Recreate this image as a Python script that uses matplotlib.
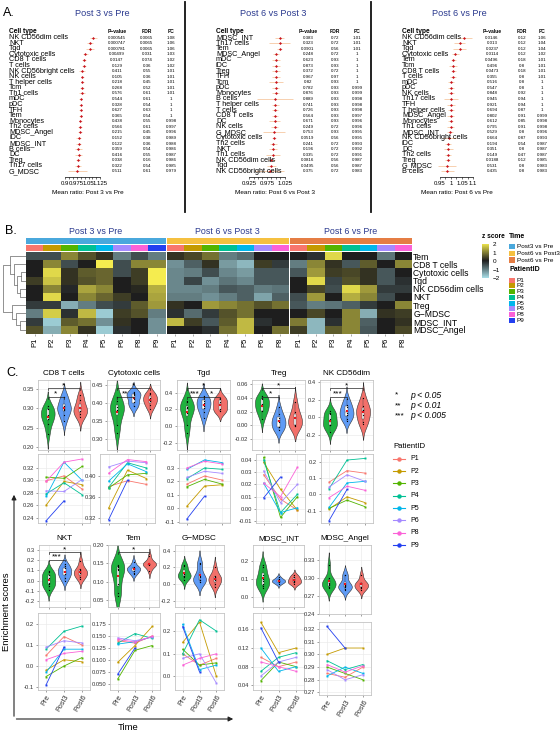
import numpy as np
import matplotlib
matplotlib.use('Agg')
import matplotlib.pyplot as plt
from matplotlib.colors import LinearSegmentedColormap, to_rgb
from matplotlib.patches import Rectangle

plt.rcParams['font.family'] = ['Liberation Sans', 'DejaVu Sans']

W, H = 560, 732
fig = plt.figure(figsize=(W / 100, H / 100), dpi=100)
fig.patch.set_facecolor('white')

NAVY = '#2b3a8f'

# ---------------- Panel A data ----------------
a1_cells = ['NK CD56dim cells', 'NKT', 'Tgd', 'Cytotoxic cells', 'CD8 T cells', 'T cells',
            'NK CD56bright cells', 'NK cells', 'T helper cells', 'Tcm', 'Th1 cells', 'mDC', 'pDC',
            'TFH', 'Tem', 'Monocytes', 'Th2 cells', 'MDSC_Angel', 'iDC', 'MDSC_INT', 'B cells',
            'DC', 'Treg', 'Th17 cells', 'G_MDSC']
a1_p = [0.000545, 0.000747, 0.000781, 0.00499, 0.0147, 0.129, 0.411, 0.105, 0.218, 0.268, 0.576,
        0.544, 0.328, 0.627, 0.365, 0.438, 0.566, 0.215, 0.152, 0.122, 0.359, 0.416, 0.038, 0.322, 0.511]
a1_fdr = [0.0065, 0.0065, 0.0065, 0.031, 0.074, 0.36, 0.55, 0.36, 0.45, 0.52, 0.61, 0.61, 0.54,
          0.63, 0.54, 0.55, 0.61, 0.45, 0.38, 0.36, 0.54, 0.55, 0.16, 0.54, 0.61]
a1_fc = [1.08, 1.06, 1.06, 1.03, 1.02, 1.02, 1.01, 1.01, 1.01, 1.01, 1.01, 1, 1, 1, 1, 0.998, 0.997,
         0.996, 0.989, 0.988, 0.986, 0.987, 0.986, 0.985, 0.979]
a1_ci = [0.022, 0.02, 0.025, 0.015, 0.012, 0.012, 0.02, 0.01, 0.01, 0.012, 0.02, 0.012, 0.01, 0.012,
         0.01, 0.01, 0.012, 0.012, 0.015, 0.015, 0.02, 0.025, 0.012, 0.02, 0.06]

a2_cells = ['MDSC_INT', 'Th17 cells', 'Tem', 'MDSC_Angel', 'mDC', 'iDC', 'Treg', 'TFH', 'Tcm', 'pDC',
            'Monocytes', 'B cells', 'T helper cells', 'T cells', 'CD8 T cells', 'DC', 'NK cells',
            'G_MDSC', 'Cytotoxic cells', 'Th2 cells', 'NKT', 'Th1 cells', 'NK CD56dim cells', 'Tgd',
            'NK CD56bright cells']
a2_p = [0.383, 0.323, 0.0901, 0.248, 0.623, 0.873, 0.372, 0.967, 0.82, 0.782, 0.876, 0.889, 0.741,
        0.726, 0.564, 0.671, 0.249, 0.753, 0.0519, 0.241, 0.196, 0.335, 0.0816, 0.0495, 0.375]
a2_fdr = [0.72, 0.72, 0.56, 0.72, 0.93, 0.93, 0.72, 0.97, 0.93, 0.93, 0.93, 0.93, 0.93, 0.93, 0.93,
          0.93, 0.72, 0.93, 0.56, 0.72, 0.72, 0.72, 0.56, 0.56, 0.72]
a2_fc = [1.01, 1.01, 1.01, 1, 1, 1, 1, 1, 1, 0.999, 0.999, 0.998, 0.998, 0.998, 0.997, 0.996, 0.996,
         0.995, 0.995, 0.993, 0.992, 0.991, 0.987, 0.987, 0.983]
a2_ci = [0.012, 0.03, 0.008, 0.008, 0.01, 0.01, 0.01, 0.012, 0.02, 0.01, 0.01, 0.05, 0.01, 0.008,
         0.008, 0.015, 0.01, 0.03, 0.006, 0.01, 0.012, 0.02, 0.01, 0.012, 0.04]

a3_cells = ['NK CD56dim cells', 'NKT', 'Tgd', 'Cytotoxic cells', 'Tem', 'Tcm', 'CD8 T cells', 'T cells',
            'mDC', 'pDC', 'NK cells', 'Th17 cells', 'TFH', 'T helper cells', 'MDSC_Angel', 'Monocytes',
            'Th1 cells', 'MDSC_INT', 'NK CD56bright cells', 'iDC', 'DC', 'Th2 cells', 'Treg', 'G_MDSC',
            'B cells']
a3_p = [0.0146, 0.013, 0.0237, 0.0114, 0.0496, 0.496, 0.0473, 0.355, 0.516, 0.547, 0.848, 0.945,
        0.921, 0.694, 0.802, 0.612, 0.795, 0.529, 0.664, 0.194, 0.351, 0.149, 0.0188, 0.531, 0.435]
a3_fdr = [0.12, 0.12, 0.12, 0.12, 0.18, 0.8, 0.18, 0.8, 0.8, 0.8, 0.92, 0.94, 0.94, 0.87, 0.91, 0.85,
          0.91, 0.8, 0.87, 0.54, 0.8, 0.47, 0.12, 0.8, 0.8]
a3_fc = [1.06, 1.04, 1.04, 1.02, 1.01, 1.01, 1.01, 1.01, 1, 1, 1, 1, 1, 1, 0.999, 0.998, 0.998, 0.996,
         0.993, 0.987, 0.987, 0.987, 0.985, 0.983, 0.983]
a3_ci = [0.035, 0.025, 0.03, 0.015, 0.012, 0.018, 0.012, 0.015, 0.012, 0.012, 0.015, 0.03, 0.02, 0.015,
         0.015, 0.012, 0.015, 0.015, 0.03, 0.015, 0.02, 0.015, 0.01, 0.04, 0.03]

a1_ticks = [0.9, 0.975, 1.05, 1.125]
a2_ticks = [0.925, 0.975, 1.025]
a3_ticks = [0.95, 1, 1.05, 1.1]

# ---------------- Panel B data ----------------
hm_rows = ['Tem', 'CD8 T cells', 'Cytotoxic cells', 'Tgd', 'NK CD56dim cells', 'NKT', 'Treg',
           'G\u2212MDSC', 'MDSC_INT', 'MDSC_Angel']
b1_pat = ['P1', 'P2', 'P3', 'P4', 'P5', 'P6', 'P8', 'P9']
b2_pat = ['P1', 'P2', 'P3', 'P4', 'P5', 'P6', 'P8']
b3_pat = ['P1', 'P2', 'P3', 'P4', 'P5', 'P6', 'P8']
z_post3_pre = [
    [-0.5, -0.5, 1.0, 0.5, 0.2, -1.0, -0.5, -1.0],
    [0.0, 1.0, -0.5, 0.0, 2.0, -0.5, 1.0, 1.0],
    [0.0, 1.8, 0.2, 0.6, 0.7, -0.5, 0.3, 2.0],
    [0.3, 1.6, 0.2, 0.5, 0.7, 0.0, 0.3, 2.0],
    [0.0, 1.0, -0.1, 1.3, 1.0, 0.0, 0.1, 1.4],
    [0.0, 1.8, 0.0, 1.0, 0.7, 0.3, 0.0, 1.3],
    [-0.3, -0.3, -1.5, -1.0, -0.5, -0.3, 0.6, 1.2],
    [-1.0, 1.7, -0.2, 1.5, -1.8, 0.3, 0.5, -1.0],
    [-0.3, -1.8, 0.6, 0.8, -1.2, 0.2, 0.0, -1.2],
    [0.5, -1.5, 1.0, 0.2, -1.8, -0.2, 0.0, -1.2]]
z_post6_post3 = [
    [0.2, 0.4, 0.8, -1.0, -0.8, 0.0, 0.0],
    [-1.2, -0.7, 0.2, -1.3, -1.6, 0.3, -0.3],
    [-1.1, -1.0, -0.5, -1.1, -1.3, -0.6, -0.6],
    [-1.1, -0.4, -1.2, -0.9, -1.1, -0.6, -0.6],
    [-1.1, -1.1, -1.0, -0.6, -0.7, -1.0, -0.9],
    [-1.0, -1.0, -1.2, -1.0, -0.7, -1.4, -0.7],
    [0.2, 0.0, 1.2, 1.0, 0.8, 0.5, 0.8],
    [-0.2, -0.8, -0.3, 0.5, 0.8, 0.0, 0.0],
    [1.5, 0.3, -0.6, 0.6, 1.5, -0.2, 0.0],
    [0.0, 0.0, -0.2, 0.8, 1.5, 0.0, 0.8]]
z_post6_pre = [
    [0.0, -0.2, 1.8, 0.0, 0.0, -0.9, 0.0],
    [-1.0, 1.0, 0.2, -0.6, 0.6, 0.0, 1.0],
    [-0.6, 1.2, 0.3, 0.4, 0.2, -0.6, 0.0],
    [0.0, 1.8, -0.4, 0.5, 0.2, -0.6, -0.2],
    [0.0, 0.4, -0.5, 1.8, 1.2, -0.3, -0.3],
    [-0.5, 1.2, 0.0, 1.4, 1.0, -0.5, 0.0],
    [-0.6, -1.0, -0.9, -0.7, -0.3, 0.0, 1.0],
    [0.0, 0.4, 0.0, 1.0, -1.5, 0.2, 0.3],
    [0.9, -1.6, -0.2, 1.0, -0.7, 0.0, 0.2],
    [0.3, -1.6, 0.6, 1.0, -0.6, 0.0, 0.4]]
# hierarchical clustering merges of the rows: (node a, node b, height)
dendro_merges = [(2, 3, 1.0), (4, 5, 1.3), (10, 11, 2.0), (1, 12, 2.6), (0, 13, 3.5),
                 (8, 9, 1.2), (7, 15, 2.2), (6, 16, 3.0), (14, 17, 5.0)]
time_names = ['Post3 vs Pre', 'Post6 vs Post3', 'Post6 vs Pre']
time_colors = ['#4aa8dc', '#f5c040', '#e57d44']
block_titles = ['Post 3 vs Pre', 'Post 6 vs Post 3', 'Post 6 vs Pre']

# ---------------- Panel C data ----------------
patients = ['P1', 'P2', 'P3', 'P4', 'P5', 'P6', 'P8', 'P9']
pat_colors = ['#F8766D', '#C49A00', '#53B400', '#00C094', '#00B6EB', '#A58AFF', '#FB61D7', '#2340f0']
timepoints = ['Pre', 'Post3', 'Post6']
nan = np.nan
cd8 = [[0.299, 0.307, 0.286], [0.260, 0.298, 0.293], [0.305, 0.303, 0.322], [0.278, 0.296, 0.277],
       [0.274, 0.329, 0.300], [0.283, 0.282, 0.301], [0.298, 0.329, 0.334], [0.235, 0.267, nan]]
cyto = [[0.380, 0.391, 0.384], [0.339, 0.411, 0.395], [0.377, 0.402, 0.405], [0.378, 0.425, 0.415],
        [0.390, 0.423, 0.408], [0.417, 0.428, 0.425], [0.405, 0.431, 0.427], [0.317, 0.392, nan]]
tgd = [[0.18, 0.24, 0.21], [0.015, 0.165, 0.175], [0.16, 0.215, 0.18], [0.22, 0.30, 0.29],
       [0.29, 0.36, 0.34], [0.23, 0.275, 0.26], [0.30, 0.35, 0.33], [-0.08, 0.09, nan]]
treg = [[0.028, 0.008, -0.001], [0.038, 0.016, -0.001], [0.042, -0.007, 0.010], [0.040, -0.003, 0.012],
        [0.021, -0.003, 0.001], [0.031, 0.005, 0.020], [0.021, 0.010, 0.034], [0.009, 0.026, nan]]
nkdim = [[0.075, 0.145, 0.13], [-0.09, -0.015, -0.05], [-0.085, -0.035, -0.075], [0.035, 0.21, 0.22],
         [-0.08, 0.07, 0.08], [0.045, 0.12, 0.08], [-0.02, 0.05, 0.025], [-0.16, 0.03, nan]]
nkt = [[0.05, 0.14, 0.10], [-0.02, 0.03, 0.02], [-0.05, 0.00, 0.04], [0.08, 0.165, 0.19],
       [-0.03, 0.08, 0.08], [0.09, 0.12, 0.11], [0.03, 0.06, 0.07], [-0.09, 0.09, nan]]
tem = [[0.140, 0.135, 0.150], [0.095, 0.130, 0.170], [0.060, 0.120, 0.130], [0.135, 0.155, 0.145],
       [0.133, 0.138, 0.148], [0.146, 0.140, 0.148], [0.143, 0.137, 0.149], [0.070, 0.125, nan]]
gmdsc = [[0.10, 0.05, 0.08], [0.15, 0.24, 0.00], [0.12, 0.05, 0.06], [0.10, 0.25, 0.20],
         [0.23, 0.03, 0.05], [0.08, 0.10, -0.03], [0.05, 0.08, 0.10], [0.22, 0.02, nan]]
mdsc_int = [[0.10, 0.08, 0.09], [0.175, 0.11, 0.12], [0.05, 0.09, 0.08], [0.07, 0.10, 0.11],
            [0.12, 0.07, 0.08], [0.06, 0.09, 0.10], [0.09, 0.08, 0.07], [0.163, 0.09, nan]]
mdsc_angel = [[0.285, 0.282, 0.290], [0.300, 0.305, 0.305], [0.290, 0.285, 0.280], [0.295, 0.288, 0.292],
              [0.283, 0.290, 0.285], [0.288, 0.280, 0.284], [0.292, 0.286, 0.291], [0.322, 0.305, nan]]

c_titles = ['CD8 T cells', 'Cytotoxic cells', 'Tgd', 'Treg', 'NK CD56dim',
            'NKT', 'Tem', 'G\u2212MDSC', 'MDSC_INT', 'MDSC_Angel']
c_data = [cd8, cyto, tgd, treg, nkdim, nkt, tem, gmdsc, mdsc_int, mdsc_angel]
vio_ylim = [(0.193, 0.373), (0.27, 0.464), (-0.29, 0.554), (-0.036, 0.066), (-0.365, 0.42),
            (-0.26, 0.35), (0.031, 0.2), (-0.275, 0.468), (-0.057, 0.287), (0.24, 0.355)]
vio_ticks = [[0.20, 0.25, 0.30, 0.35], [0.30, 0.35, 0.40, 0.45], [-0.2, 0.0, 0.2, 0.4],
             [-0.02, 0.00, 0.02, 0.04, 0.06], [-0.2, 0.0, 0.2, 0.4],
             [-0.2, -0.1, 0.0, 0.1, 0.2, 0.3], [0.05, 0.10, 0.15, 0.20], [-0.2, 0.0, 0.2, 0.4],
             [0.0, 0.1, 0.2], [0.24, 0.27, 0.30, 0.33]]
vio_fmt = ['%.2f', '%.2f', '%.1f', '%.2f', '%.1f', '%.1f', '%.2f', '%.1f', '%.1f', '%.2f']
line_ylim = [(0.2315, 0.342), (0.311, 0.4415), (-0.11, 0.404), (-0.0115, 0.0448), (-0.175, 0.247),
             (-0.114, 0.252), (0.037, 0.198), (-0.06, 0.28), (0.03, 0.195), (0.268, 0.3255)]
line_ticks = [[0.24, 0.26, 0.28, 0.30, 0.32], [0.32, 0.36, 0.40], [-0.1, 0.0, 0.1, 0.2, 0.3],
              [-0.01, 0.00, 0.01, 0.02, 0.03, 0.04], [-0.1, 0.0, 0.1, 0.2],
              [-0.1, 0.0, 0.1, 0.2], [0.050, 0.075, 0.100, 0.125, 0.150, 0.175], [0.0, 0.1, 0.2],
              [0.04, 0.08, 0.12, 0.16], [0.27, 0.28, 0.29, 0.30, 0.31, 0.32]]
line_fmt = ['%.2f', '%.2f', '%.1f', '%.2f', '%.1f', '%.1f', '%.3f', '%.1f', '%.2f', '%.2f']
# significance: (group a, group b, level, label)
signif = [[(1, 2, 0, '*'), (1, 3, 1, '*')],
          [(1, 2, 0, '**'), (1, 3, 1, '*')],
          [(1, 2, 0, '***'), (2, 3, 0, '*'), (1, 3, 1, '*')],
          [(1, 2, 0, '*'), (1, 3, 1, '*')],
          [(1, 2, 0, '***'), (1, 3, 1, '*')],
          [(1, 2, 0, '***'), (1, 3, 1, '*')],
          [(1, 3, 1, '*')], [], [], []]
vio_colors = ['#1fb23f', '#5f9bf5', '#f2706a']


def pax(x0, y0, x1, y1, **kw):
    return fig.add_axes([x0 / W, 1 - y1 / H, (x1 - x0) / W, (y1 - y0) / H], **kw)


# overlay axes in pixel coordinates for free text / lines
ov = fig.add_axes([0, 0, 1, 1], zorder=20)
ov.set_xlim(0, W)
ov.set_ylim(H, 0)
ov.axis('off')
ov.patch.set_alpha(0)

# ======================= Panel A =======================
ov.text(3, 13, 'A.', fontsize=9, va='center', ha='left')
RY0, RDY = 37.7, 5.57


def forest(cells, pv, fdr, fc, ci, ticks, minor, ax_x0, ax_x1, one_px, scale,
           col_name, col_p, col_fdr, col_fc, title, title_x, xlabel, xlabel_x):
    ax = pax(ax_x0, 33, ax_x1, 177)
    ax.patch.set_alpha(0)
    ax.set_xlim(1 - (one_px - ax_x0) / scale, 1 + (ax_x1 - one_px) / scale)
    ax.set_ylim((177 - RY0) / RDY, (33 - RY0) / RDY)
    for i, (f, c) in enumerate(zip(fc, ci)):
        ax.plot([f - c, f + c], [i, i], color='#f6c9a2', lw=0.6, solid_capstyle='butt')
        ax.plot(f, i, marker='D', color='#c8141e', ms=1.5, mew=0)
    for s in ['top', 'left', 'right']:
        ax.spines[s].set_visible(False)
    ax.spines['bottom'].set_bounds(ticks[0], ticks[-1])
    ax.spines['bottom'].set_linewidth(0.5)
    ax.set_yticks([])
    ax.set_xticks(ticks)
    ax.set_xticklabels([('%g' % t) for t in ticks], fontsize=4.3)
    ax.set_xticks(minor, minor=True)
    ax.tick_params(axis='x', which='both', length=1.5, width=0.4, pad=1.2)
    ov.text(col_name, 31.5, 'Cell type', fontsize=4.8, fontweight='bold', va='center', ha='left')
    ov.text(col_p, 31.5, 'P\u2212value', fontsize=3.6, fontweight='bold', va='center', ha='center')
    ov.text(col_fdr, 31.5, 'FDR', fontsize=3.6, fontweight='bold', va='center', ha='center')
    ov.text(col_fc, 31.5, 'FC', fontsize=3.6, fontweight='bold', va='center', ha='center')
    for i, name in enumerate(cells):
        y = RY0 + i * RDY
        ov.text(col_name, y, name, fontsize=5.2, va='center', ha='left')
        ov.text(col_p, y, '%.3g' % pv[i], fontsize=3.2, va='center', ha='center')
        ov.text(col_fdr, y, '%.2g' % fdr[i], fontsize=3.2, va='center', ha='center')
        ov.text(col_fc, y, '%.3g' % fc[i], fontsize=3.2, va='center', ha='center')
    ov.text(title_x, 13, title, fontsize=6.6, color=NAVY, ha='center', va='center')
    ov.text(xlabel_x, 193, xlabel, fontsize=4.6, ha='center', va='center')


forest(a1_cells, a1_p, a1_fdr, a1_fc, a1_ci, a1_ticks, np.arange(0.9, 1.13, 0.025),
       55, 115, 80.6, 158, 9, 117, 147, 171, 'Post 3 vs Pre', 102, 'Mean ratio: Post 3 vs Pre', 88)
forest(a2_cells, a2_p, a2_fdr, a2_fc, a2_ci, a2_ticks, np.arange(0.925, 1.03, 0.0125),
       240, 300, 276, 360, 216, 308, 335, 357, 'Post 6 vs Post 3', 273, 'Mean ratio: Post 6 vs Post 3', 275)
forest(a3_cells, a3_p, a3_fdr, a3_fc, a3_ci, a3_ticks, np.arange(0.95, 1.105, 0.025),
       425, 485, 451, 220, 402, 492, 522, 542, 'Post 6 vs Pre', 459, 'Mean ratio: Post 6 vs Pre', 457)
ov.plot([185, 185], [2, 212], color='#111111', lw=1.3)
ov.plot([371, 371], [2, 212], color='#111111', lw=1.3)

# ======================= Panel B =======================
ov.text(5, 231, 'B.', fontsize=9, va='center', ha='left')
zcmap = LinearSegmentedColormap.from_list('zs', ['#a9dde6', '#1e1e1e', '#f5ec4f'])
pat_color_map = dict(zip(patients, pat_colors))
CW = 17.4
HY0, HY1 = 252, 333.6
blocks = [(z_post3_pre, b1_pat), (z_post6_post3, b2_pat), (z_post6_pre, b3_pat)]
bx0 = 26.0
for bi, (z, pats) in enumerate(blocks):
    bx1 = bx0 + CW * len(pats)
    axh = pax(bx0, HY0, bx1, HY1)
    axh.imshow(np.array(z), cmap=zcmap, vmin=-2, vmax=2, aspect='auto', interpolation='nearest')
    for s in axh.spines.values():
        s.set_visible(False)
    axh.set_xticks(range(len(pats)))
    axh.set_xticklabels(pats, rotation=90, fontsize=5.5)
    axh.tick_params(axis='x', length=1.2, width=0.4, pad=1.5, color='#666666')
    if bi == 2:
        axh.yaxis.tick_right()
        axh.set_yticks(range(len(hm_rows)))
        axh.set_yticklabels(hm_rows, fontsize=6.2)
        axh.tick_params(axis='y', length=0, pad=1.2)
    else:
        axh.set_yticks([])
    # annotation bars
    axt = pax(bx0, 238.3, bx1, 244.0)
    axt.imshow(np.array([[to_rgb(time_colors[bi])] * len(pats)]), aspect='auto', interpolation='nearest')
    axt.axis('off')
    axp = pax(bx0, 245.2, bx1, 250.8)
    axp.imshow(np.array([[to_rgb(pat_color_map[p]) for p in pats]]), aspect='auto', interpolation='nearest')
    axp.axis('off')
    ov.text((bx0 + bx1) / 2, 231.5, block_titles[bi], fontsize=6.4, color=NAVY, ha='center', va='center')
    bx0 = bx1 + 1.4

# dendrogram
axd = pax(3, HY0, 25.5, HY1)
n_leaf = len(hm_rows)
node_pos = {i: float(i) for i in range(n_leaf)}
node_h = {i: 0.0 for i in range(n_leaf)}
for k, (a, b, h) in enumerate(dendro_merges):
    axd.plot([node_h[a], h, h, node_h[b]], [node_pos[a], node_pos[a], node_pos[b], node_pos[b]],
             color='#666666', lw=0.5)
    node_pos[n_leaf + k] = (node_pos[a] + node_pos[b]) / 2
    node_h[n_leaf + k] = h
axd.set_ylim(n_leaf - 0.5, -0.5)
axd.set_xlim(max(m[2] for m in dendro_merges) * 1.02, 0)
axd.axis('off')

# colour bar
axc = pax(482, 244.0, 489, 278.5)
axc.imshow(np.linspace(2, -2, 100)[:, None], cmap=zcmap, vmin=-2, vmax=2, aspect='auto',
           extent=[0, 1, -2, 2])
axc.set_xticks([])
axc.yaxis.tick_right()
axc.set_yticks([2, 1, 0, -1, -2])
axc.set_yticklabels(['2', '1', '0', '\u22121', '\u22122'], fontsize=4.6)
axc.tick_params(axis='y', length=1.2, width=0.4, color='white', pad=1.5)
for s in axc.spines.values():
    s.set_visible(False)
ov.text(481.5, 236.8, 'z score', fontsize=4.8, fontweight='bold', va='center', ha='left')
ov.text(509, 237.0, 'Time', fontsize=5.0, fontweight='bold', va='center', ha='left')
for i, (nm, col) in enumerate(zip(time_names, time_colors)):
    y = 246.7 + i * 6.65
    ov.add_patch(Rectangle((509.3, y - 2.6), 5.2, 5.2, fc=col, ec='none'))
    ov.text(516.7, y, nm, fontsize=4.6, va='center', ha='left')
ov.text(509, 269.3, 'PatientID', fontsize=5.0, fontweight='bold', va='center', ha='left')
for i, (nm, col) in enumerate(zip(patients, pat_colors)):
    y = 280.2 + i * 5.75
    ov.add_patch(Rectangle((509.3, y - 2.5), 5.2, 5.0, fc=col, ec='none'))
    ov.text(516.7, y, nm, fontsize=4.6, va='center', ha='left')

# ======================= Panel C =======================
ov.text(6, 373, 'C.', fontsize=9, va='center', ha='left')

vio_x = [(38, 90), (107, 160), (177, 230), (252, 305), (320, 373),
         (39, 90), (108, 159), (175, 224), (253, 304), (319, 371)]
line_x = [(38, 90), (100, 155), (179, 230), (256, 305), (321, 373),
          (38, 90), (110, 160), (175, 224), (253, 304), (319, 371)]
vio_y = [(380, 450)] * 5 + [(545, 607)] * 4 + [(545, 614)]
line_y = [(454, 523)] * 5 + [(613, 690)] * 4 + [(622, 695)]


def style_axes(ax):
    ax.set_facecolor('white')
    for s in ax.spines.values():
        s.set_color('#c4c4c4')
        s.set_linewidth(0.6)
    ax.grid(True, color='#ebebeb', lw=0.5)
    ax.set_axisbelow(True)
    ax.tick_params(length=1.5, width=0.4, color='#555555', pad=1.2, labelsize=4.2,
                   labelcolor='#333333')


for k in range(10):
    data = np.array(c_data[k], dtype=float)
    # ---- violin ----
    x0, x1 = vio_x[k]
    y0, y1 = vio_y[k]
    ax = pax(x0, y0, x1, y1)
    style_axes(ax)
    for g in range(3):
        v = data[:, g]
        v = v[~np.isnan(v)]
        n = len(v)
        bw = 1.06 * v.std(ddof=1) * n ** (-0.2)
        grid = np.linspace(v.min() - 2.4 * bw, v.max() + 2.4 * bw, 200)
        dens = np.exp(-0.5 * ((grid[:, None] - v[None, :]) / bw) ** 2).sum(axis=1)
        dens = dens / dens.max() * 0.42
        xc = g + 1
        ax.fill_betweenx(grid, xc - dens, xc + dens, facecolor=vio_colors[g],
                         edgecolor='#333333', lw=0.4, zorder=2)
        bp = ax.boxplot([v], positions=[xc], widths=0.13, patch_artist=True, showfliers=False,
                        whis=1.5, manage_ticks=False)
        for b in bp['boxes']:
            b.set(facecolor='white', edgecolor='#444444', lw=0.3, zorder=3)
        for key in ['whiskers', 'caps', 'medians']:
            for l in bp[key]:
                l.set(color='#444444', lw=0.3, zorder=3)
        for l in bp['caps']:
            l.set_visible(False)
        ax.scatter(np.full(n, xc), v, s=0.8, color='black', zorder=4, linewidths=0)
        ax.plot(xc, v.mean(), marker='s', color='#e8141c', ms=2.0, mew=0, zorder=5)
    lo, hi = vio_ylim[k]
    ax.set_ylim(lo, hi)
    ax.set_xlim(0.4, 3.6)
    ax.set_xticks([1, 2, 3])
    ax.set_xticklabels([])
    ax.set_yticks(vio_ticks[k])
    ax.set_yticklabels([vio_fmt[k] % t for t in vio_ticks[k]])
    rng = hi - lo
    for (ga, gb, lvl, lab) in signif[k]:
        yb = lo + rng * (0.76 + 0.12 * lvl)
        ax.plot([ga, ga, gb, gb], [yb - rng * 0.025, yb, yb, yb - rng * 0.025], color='#222222', lw=0.5, zorder=6)
        ax.text((ga + gb) / 2, yb - rng * 0.01, lab, ha='center', va='bottom', fontsize=6, zorder=6)
    ov.text((x0 + x1) / 2, y0 - 6.5, c_titles[k], fontsize=5.9, ha='center', va='center')

    # ---- lines per patient ----
    x0, x1 = line_x[k]
    y0, y1 = line_y[k]
    ax = pax(x0, y0, x1, y1)
    style_axes(ax)
    xs = np.arange(3)
    for p in range(len(patients)):
        vals = data[p]
        ok = ~np.isnan(vals)
        ax.plot(xs[ok], vals[ok], color=pat_colors[p], lw=0.6, marker='s', ms=1.4, mew=0)
    ax.set_ylim(*line_ylim[k])
    ax.set_xlim(-0.45, 2.45)
    ax.set_xticks(xs)
    ax.set_yticks(line_ticks[k])
    ax.set_yticklabels([line_fmt[k] % t for t in line_ticks[k]])
    if k >= 5:
        ax.set_xticklabels(timepoints, rotation=60, ha='right', rotation_mode='anchor', fontsize=5.2)
    else:
        ax.set_xticklabels([])

# significance legend
for i, (st, txt) in enumerate([('*', 'p < 0.05'), ('**', 'p < 0.01'), ('***', 'p < 0.005')]):
    y = 395 + i * 10.5
    ov.text(395, y, st, fontsize=6.0, va='center', ha='left')
    ov.text(410, y, txt, fontsize=6.2, style='italic', va='center', ha='left')

# patient legend
ov.text(393, 447, 'PatientID', fontsize=5.6, va='center', ha='left')
for i, (nm, col) in enumerate(zip(patients, pat_colors)):
    y = 458.7 + i * 12.35
    ov.plot([393, 405], [y, y], color=col, lw=0.8)
    ov.plot(399, y, marker='o', color=col, ms=3.2, mew=0)
    ov.text(410, y, nm, fontsize=5.0, va='center', ha='left')

# axis arrows
ov.annotate('', xy=(14, 492), xytext=(14, 719),
            arrowprops=dict(arrowstyle='-|>', color='#222222', lw=0.8, mutation_scale=7))
ov.annotate('', xy=(236, 719), xytext=(13.6, 719),
            arrowprops=dict(arrowstyle='-|>', color='#222222', lw=0.8, mutation_scale=7))
ov.text(7, 612, 'Enrichment scores', rotation=90, fontsize=6.8, va='center', ha='center')
ov.text(128, 727, 'Time', fontsize=6.8, va='center', ha='center')

fig.savefig('out.png', dpi=100, facecolor='white')
